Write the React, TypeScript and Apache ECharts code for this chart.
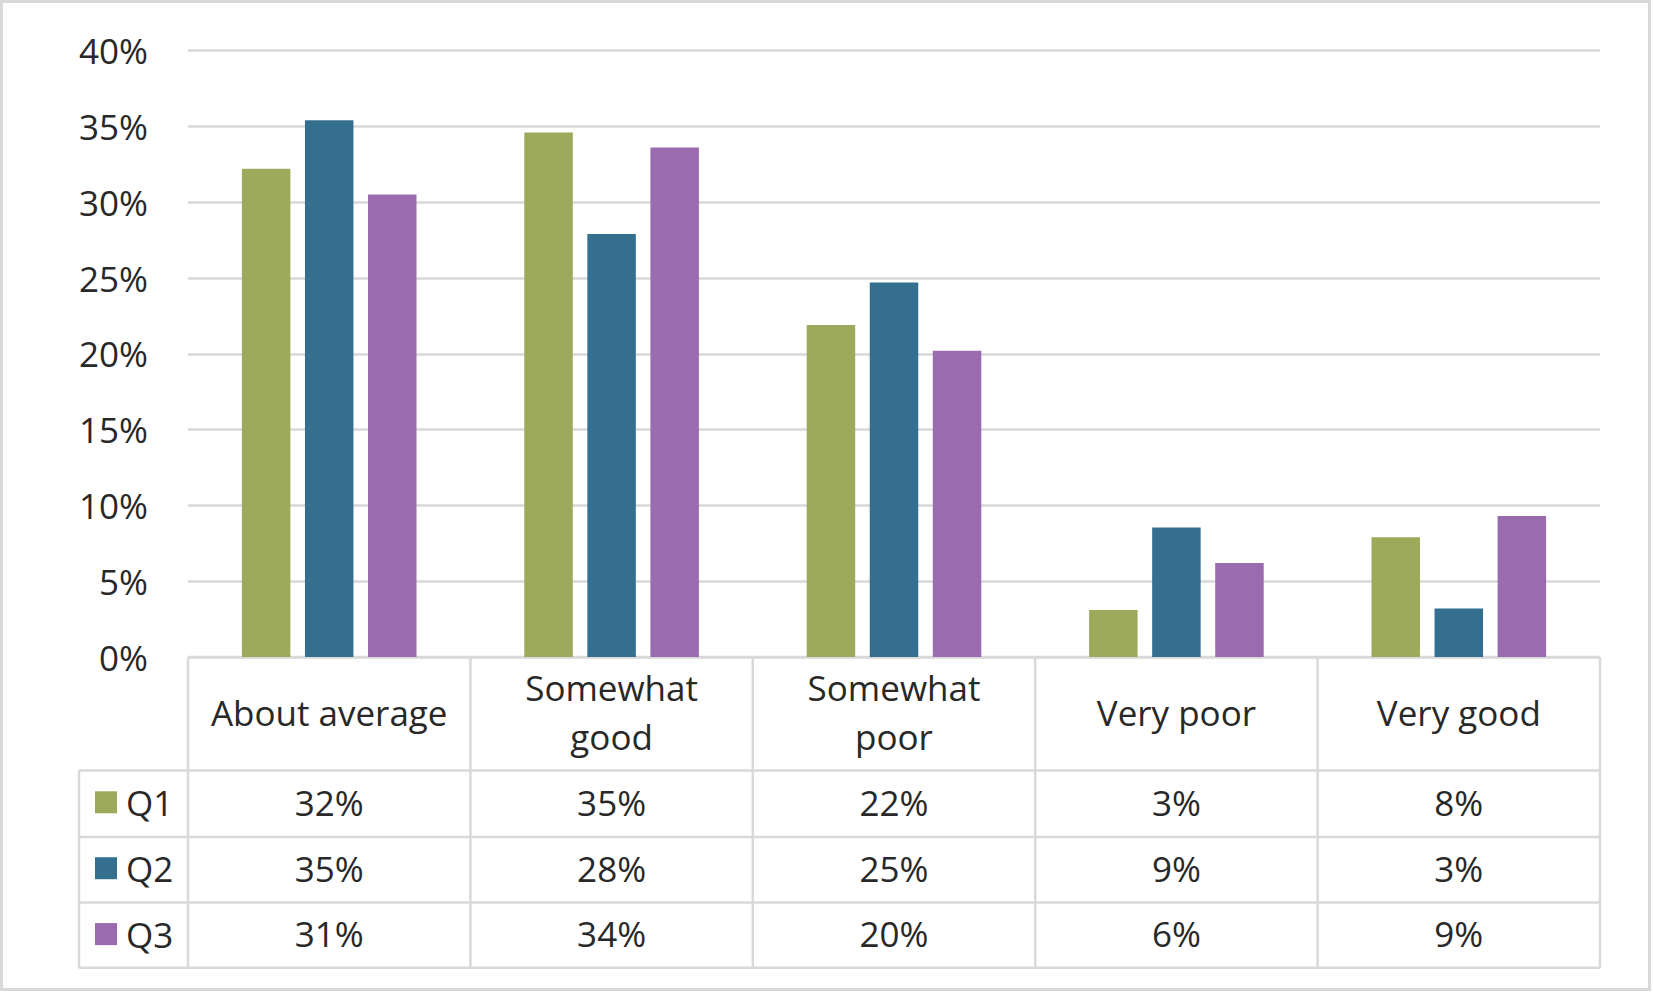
import React, { useEffect, useRef } from "react";
import * as echarts from "echarts";

const categories = ["About average", "Somewhat good", "Somewhat poor", "Very poor", "Very good"];
const categoryTickLabels = ["About average", "Somewhat\ngood", "Somewhat\npoor", "Very poor", "Very good"];
const seriesNames = ["Q1", "Q2", "Q3"];
const q1Values = [32.2, 34.6, 21.9, 3.1, 7.9];
const q2Values = [35.4, 27.9, 24.7, 8.55, 3.2];
const q3Values = [30.5, 33.6, 20.2, 6.2, 9.3];
const seriesColors = ["#9eaa5b", "#346f90", "#9a6bae"];

const W = 1653;
const H = 993;
const FONT = "'Open Sans', 'Noto Sans', sans-serif";
const TEXT = "#282828";
const LINE = "#d9d9d9";

export default function App() {
  const ref = useRef<HTMLDivElement>(null);

  useEffect(() => {
    if (!ref.current) return;
    const chart = echarts.init(ref.current, undefined, { renderer: "svg" });

    const gridLeft = 188;
    const gridRight = 1600;
    const gridTop = 50.6;
    const gridBottomY = 657;
    const rowLines = [770.6, 837, 902.4, 967.8];
    const tableLeft = 79;
    const colW = (gridRight - gridLeft) / categories.length;

    const allSeries = [q1Values, q2Values, q3Values];
    const fmt = (v: number) => Math.round(v) + "%";

    const lineStyle = { stroke: LINE, lineWidth: 2.5 };
    const graphics: any[] = [
      {
        type: "rect",
        shape: { x: 1.5, y: 1.5, width: 1648, height: 988 },
        style: { fill: "none", stroke: LINE, lineWidth: 3 },
        silent: true,
      },
      {
        type: "line",
        shape: { x1: gridLeft, y1: gridBottomY, x2: gridRight, y2: gridBottomY },
        style: lineStyle,
        silent: true,
      },
    ];
    rowLines.forEach((y) => {
      graphics.push({
        type: "line",
        shape: { x1: tableLeft, y1: y, x2: gridRight, y2: y },
        style: lineStyle,
        silent: true,
      });
    });
    graphics.push({
      type: "line",
      shape: { x1: tableLeft, y1: rowLines[0], x2: tableLeft, y2: rowLines[3] },
      style: lineStyle,
      silent: true,
    });
    for (let i = 0; i <= categories.length; i++) {
      const x = gridLeft + i * colW;
      graphics.push({
        type: "line",
        shape: { x1: x, y1: gridBottomY, x2: x, y2: rowLines[3] },
        style: lineStyle,
        silent: true,
      });
    }

    const rowCenters = [
      (rowLines[0] + rowLines[1]) / 2 - 1.5,
      (rowLines[1] + rowLines[2]) / 2 - 1.5,
      (rowLines[2] + rowLines[3]) / 2 - 1.5,
    ];

    const valueAxes = allSeries.map((vals, i) => ({
      type: "category",
      gridIndex: 0,
      position: "bottom",
      offset: rowCenters[i] - gridBottomY,
      data: vals.map(fmt),
      axisLine: { show: false },
      axisTick: { show: false },
      splitLine: { show: false },
      axisLabel: {
        interval: 0,
        margin: 0,
        verticalAlign: "middle",
        fontSize: 35,
        fontFamily: FONT,
        color: TEXT,
      },
    }));

    chart.setOption({
      animation: false,
      backgroundColor: "#ffffff",
      textStyle: { fontFamily: FONT },
      grid: {
        left: gridLeft,
        right: W - gridRight,
        top: gridTop,
        bottom: H - gridBottomY,
        containLabel: false,
      },
      legend: {
        orient: "vertical",
        left: 95,
        top: rowCenters[0] - 20,
        padding: 0,
        itemWidth: 22,
        itemHeight: 22,
        itemGap: rowCenters[1] - rowCenters[0] - 40,
        icon: "rect",
        data: seriesNames,
        textStyle: { fontSize: 35, lineHeight: 40, fontFamily: FONT, color: TEXT, padding: [0, 0, 0, 4] },
      },
      xAxis: [
        {
          type: "category",
          data: categories,
          axisLine: { show: false },
          axisTick: { show: false },
          axisLabel: {
            interval: 0,
            margin: 55,
            verticalAlign: "middle",
            lineHeight: 49,
            fontSize: 35,
            fontFamily: FONT,
            color: TEXT,
            formatter: (_: string, idx: number) => categoryTickLabels[idx],
          },
        },
        ...valueAxes,
      ],
      yAxis: {
        type: "value",
        min: 0,
        max: 40,
        interval: 5,
        axisLine: { show: false },
        axisTick: { show: false },
        splitLine: { lineStyle: { color: LINE, width: 2.5 } },
        axisLabel: {
          formatter: "{value}%",
          margin: 40,
          fontSize: 35,
          fontFamily: FONT,
          color: TEXT,
        },
      },
      series: allSeries.map((vals, i) => ({
        name: seriesNames[i],
        type: "bar",
        data: vals,
        barWidth: 48.5,
        barGap: "30%",
        itemStyle: { color: seriesColors[i] },
      })),
      graphic: graphics,
    });

    return () => chart.dispose();
  }, []);

  return (
    <div
      ref={ref}
      style={{ position: "fixed", left: 0, top: 0, width: W, height: H, background: "#fff" }}
    />
  );
}
